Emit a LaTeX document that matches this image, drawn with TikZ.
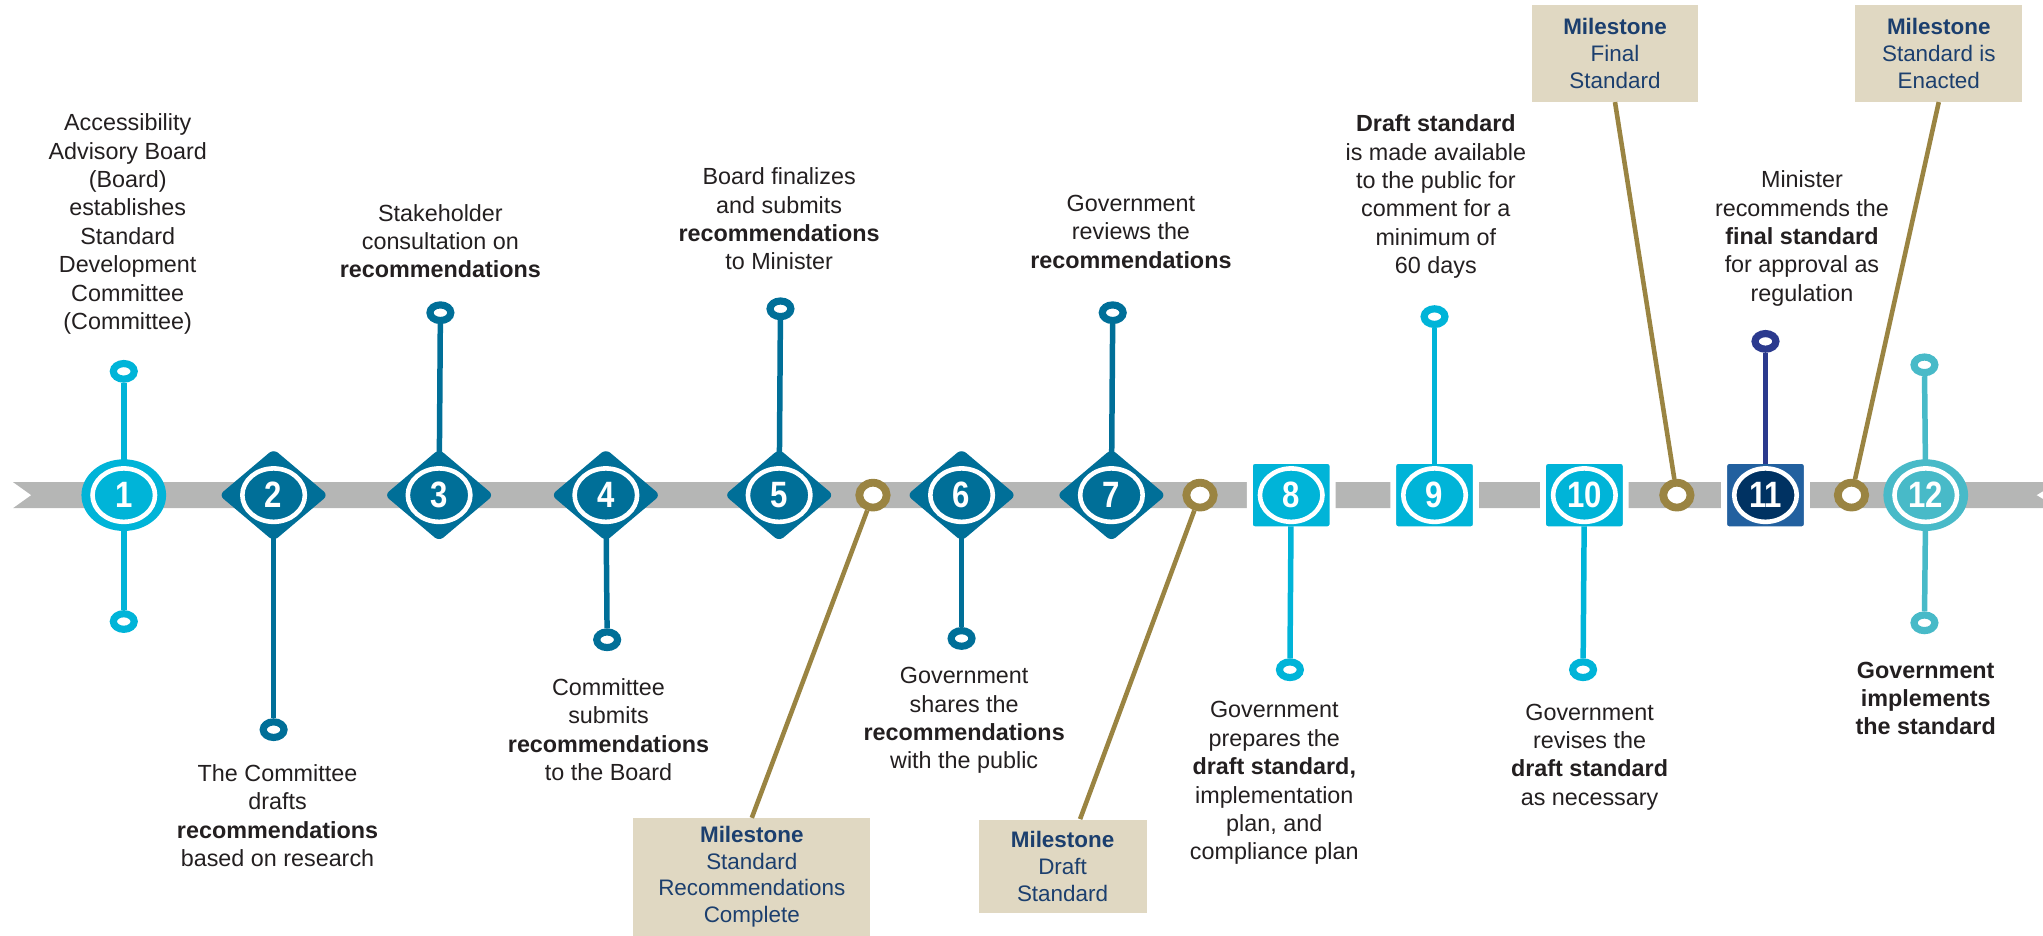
\documentclass[tikz,border=0pt]{standalone}
\usepackage{fontspec}
\setmainfont{Liberation Sans}
\usetikzlibrary{shapes,positioning}
\definecolor{bandgray}{HTML}{B5B6B5}
\definecolor{cyanM}{HTML}{00B4D8}
\definecolor{tealM}{HTML}{006F98}
\definecolor{goldM}{HTML}{9A8442}
\definecolor{navyA}{HTML}{22609F}
\definecolor{navyB}{HTML}{003262}
\definecolor{navyP}{HTML}{2B3A8E}
\definecolor{aquaM}{HTML}{48BAC8}
\definecolor{boxfill}{HTML}{E0D8C2}
\definecolor{boxtext}{HTML}{1C3F6E}
\definecolor{bodytext}{HTML}{231F20}
\newcommand\txtfont{\fontsize{10.2}{12.4}\selectfont}
\newcommand\msfont{\fontsize{9.8}{11.6}\selectfont}
\newcommand\numfont{\fontsize{16}{16}\selectfont\bfseries\addfontfeatures{FakeStretch=0.85}}

\begin{document}
\begin{tikzpicture}[
    x=0.02cm, y=-0.02cm,
    numbered/.style={inner sep=0pt, text=white, font=\numfont,
        path picture={\draw[white,line width=2pt] (path picture bounding box.center) ellipse (0.48cm and 0.41cm);}},
    roundmk/.style={numbered, ellipse, fill=#1, minimum width=1.3cm, minimum height=1.1cm},
    diamk/.style={numbered, diamond, fill=tealM, rounded corners=2.5pt, minimum width=1.68cm, minimum height=1.42cm},
    sqmk/.style={numbered, rectangle, fill=#1, draw=white, line width=0.09cm, rounded corners=2pt, minimum width=1.27cm, minimum height=1.05cm},
    knob/.style={ellipse, fill=white, draw=#1, line width=0.11cm, minimum width=0.32cm, minimum height=0.24cm, inner sep=0pt},
    mring/.style={ellipse, fill=white, draw=goldM, line width=0.12cm, minimum width=0.42cm, minimum height=0.38cm, inner sep=0pt},
    stalk/.style={draw=#1, line width=2.4pt, shorten >=-0.09cm},
    goldline/.style={draw=goldM, line width=2pt},
    mbox/.style={fill=boxfill, text=boxtext, font=\msfont, align=center, inner sep=0pt},
    txt/.style={text=bodytext, font=\txtfont, align=center}
    ]
    \useasboundingbox (0,0) rectangle (1568,718);
    % timeline band
    \fill[bandgray] (10,370) -- (1568,370) -- (1568,377) -- (1563,380) -- (1568,383) -- (1568,390) -- (10,390) -- (24,380) -- cycle;

    % steps
    \node [roundmk=cyanM](m1) at (95,380) {1};
    \node [diamk](m2) at (210,380) {2};
    \node [diamk](m3) at (337,380) {3};
    \node [diamk](m4) at (465,380) {4};
    \node [diamk](m5) at (598,380) {5};
    \node [diamk](m6) at (738,380) {6};
    \node [diamk](m7) at (853,380) {7};
    \node [sqmk=cyanM](m8) at (991,380) {8};
    \node [sqmk=cyanM](m9) at (1101,380) {9};
    \node [sqmk=cyanM](m10) at (1216,380) {10};
    \node [sqmk=navyA, path picture={\fill[navyB] (path picture bounding box.center) ellipse (0.48cm and 0.41cm);
        \draw[white,line width=2pt] (path picture bounding box.center) ellipse (0.48cm and 0.41cm);}](m11) at (1355,380) {11};
    \node [roundmk=aquaM](m12) at (1478,380) {12};

    % milestone rings
    \node [mring](gA) at (670,380) {};
    \node [mring](gB) at (921,380) {};
    \node [mring](gC) at (1287,380) {};
    \node [mring](gD) at (1421,380) {};

    % knobs
    \node [knob=cyanM](k1a) at (95,285) {};
    \node [knob=cyanM](k1b) at (95,477) {};
    \node [knob=tealM](k2) at (210,560) {};
    \node [knob=tealM](k3) at (338,240) {};
    \node [knob=tealM](k4) at (466,491) {};
    \node [knob=tealM](k5) at (599,237) {};
    \node [knob=tealM](k6) at (738,490) {};
    \node [knob=tealM](k7) at (854,240) {};
    \node [knob=cyanM](k8) at (990,514) {};
    \node [knob=cyanM](k9) at (1101,243) {};
    \node [knob=cyanM](k10) at (1215,514) {};
    \node [knob=navyP](k11) at (1355,262) {};
    \node [knob=aquaM](k12a) at (1477,280) {};
    \node [knob=aquaM](k12b) at (1477,478) {};

    \draw [stalk=cyanM] (k1a) -- (m1);
    \draw [stalk=cyanM] (k1b) -- (m1);
    \draw [stalk=tealM] (k2) -- (m2);
    \draw [stalk=tealM] (k3) -- (m3);
    \draw [stalk=tealM] (k4) -- (m4);
    \draw [stalk=tealM] (k5) -- (m5);
    \draw [stalk=tealM] (k6) -- (m6);
    \draw [stalk=tealM] (k7) -- (m7);
    \draw [stalk=cyanM] (k8) -- (m8);
    \draw [stalk=cyanM] (k9) -- (m9);
    \draw [stalk=cyanM] (k10) -- (m10);
    \draw [stalk=navyP] (k11) -- (m11);
    \draw [stalk=aquaM] (k12a) -- (m12);
    \draw [stalk=aquaM] (k12b) -- (m12);

    % milestones
    \node [mbox, minimum width=3.64cm, minimum height=1.8cm](msA) at (577,673) {\textbf{Milestone}\\Standard\\Recommendations\\Complete};
    \node [mbox, minimum width=2.58cm, minimum height=1.44cm](msB) at (815.5,665) {\textbf{Milestone}\\Draft\\Standard};
    \node [mbox, minimum width=2.54cm, minimum height=1.48cm](msC) at (1239.5,41) {\textbf{Milestone}\\Final\\Standard};
    \node [mbox, minimum width=2.56cm, minimum height=1.48cm](msD) at (1488,41) {\textbf{Milestone}\\Standard is\\Enacted};
    \draw [goldline] (gA) -- (msA.north);
    \draw [goldline] (gB) -- (msB);
    \draw [goldline] (msC.south) -- (gC);
    \draw [goldline] (msD.south) -- (gD);

    % step texts
    \node [txt](t1) at (98,172) {Accessibility\\Advisory Board\\(Board)\\establishes\\Standard\\Development\\Committee\\(Committee)};
    \node [txt](t2) at (213,626) {The Committee\\drafts\\\textbf{recommendations}\\based on research};
    \node [txt](t3) at (338,185) {Stakeholder\\consultation on\\\textbf{recommendations}};
    \node [txt](t4) at (467,560) {Committee\\submits\\\textbf{recommendations}\\to the Board};
    \node [txt](t5) at (598,168) {Board finalizes\\and submits\\\textbf{recommendations}\\to Minister};
    \node [txt](t6) at (740,553) {Government\\shares the\\\textbf{recommendations}\\with the public};
    \node [txt](t7) at (868,178) {Government\\reviews the\\\textbf{recommendations}};
    \node [txt](t8) at (978,601) {Government\\prepares the\\\textbf{draft standard,}\\implementation\\plan, and\\compliance plan};
    \node [txt](t9) at (1102,151) {\textbf{Draft standard}\\is made available\\to the public for\\comment for a\\minimum of\\60 days};
    \node [txt](t10) at (1220,581) {Government\\revises the\\\textbf{draft standard}\\as necessary};
    \node [txt](t11) at (1383,183) {Minister\\recommends the\\\textbf{final standard}\\for approval as\\regulation};
    \node [txt, font=\txtfont\bfseries](t12) at (1478,536) {Government\\implements\\the standard};
\end{tikzpicture}
\end{document}
